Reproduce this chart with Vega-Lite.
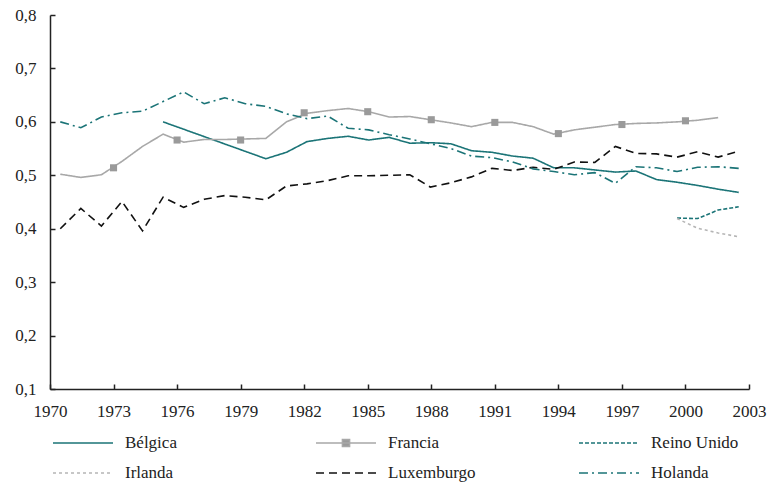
{
  "$schema": "https://vega.github.io/schema/vega-lite/v6.json",
  "width": 699,
  "height": 374,
  "autosize": "none",
  "padding": {"left": 50, "top": 15, "right": 22, "bottom": 100},
  "background": "white",
  "config": {
    "view": {"stroke": null},
    "font": "Liberation Sans Narrow",
    "axis": {
      "grid": false,
      "domainColor": "#222222",
      "domainWidth": 1.5,
      "tickColor": "#222222",
      "tickWidth": 1.5,
      "tickSize": -5,
      "labelColor": "#222222",
      "labelFont": "Liberation Sans Narrow",
      "labelFontSize": 17,
      "title": null
    }
  },
  "datasets": {
    "series": [
      {"country": "Bélgica", "year": 1975, "value": 0.600},
      {"country": "Bélgica", "year": 1980, "value": 0.531},
      {"country": "Bélgica", "year": 1981, "value": 0.543},
      {"country": "Bélgica", "year": 1982, "value": 0.563},
      {"country": "Bélgica", "year": 1983, "value": 0.569},
      {"country": "Bélgica", "year": 1984, "value": 0.573},
      {"country": "Bélgica", "year": 1985, "value": 0.566},
      {"country": "Bélgica", "year": 1986, "value": 0.571},
      {"country": "Bélgica", "year": 1987, "value": 0.560},
      {"country": "Bélgica", "year": 1988, "value": 0.561},
      {"country": "Bélgica", "year": 1989, "value": 0.559},
      {"country": "Bélgica", "year": 1990, "value": 0.546},
      {"country": "Bélgica", "year": 1991, "value": 0.543},
      {"country": "Bélgica", "year": 1992, "value": 0.536},
      {"country": "Bélgica", "year": 1993, "value": 0.532},
      {"country": "Bélgica", "year": 1994, "value": 0.514},
      {"country": "Bélgica", "year": 1995, "value": 0.514},
      {"country": "Bélgica", "year": 1996, "value": 0.510},
      {"country": "Bélgica", "year": 1997, "value": 0.506},
      {"country": "Bélgica", "year": 1998, "value": 0.508},
      {"country": "Bélgica", "year": 1999, "value": 0.492},
      {"country": "Bélgica", "year": 2000, "value": 0.487},
      {"country": "Bélgica", "year": 2001, "value": 0.481},
      {"country": "Bélgica", "year": 2002, "value": 0.474},
      {"country": "Bélgica", "year": 2003, "value": 0.468},

      {"country": "Francia", "year": 1970, "value": 0.502},
      {"country": "Francia", "year": 1971, "value": 0.496},
      {"country": "Francia", "year": 1972, "value": 0.501},
      {"country": "Francia", "year": 1973, "value": 0.526},
      {"country": "Francia", "year": 1974, "value": 0.554},
      {"country": "Francia", "year": 1975, "value": 0.577},
      {"country": "Francia", "year": 1976, "value": 0.562},
      {"country": "Francia", "year": 1977, "value": 0.567},
      {"country": "Francia", "year": 1978, "value": 0.567},
      {"country": "Francia", "year": 1979, "value": 0.568},
      {"country": "Francia", "year": 1980, "value": 0.569},
      {"country": "Francia", "year": 1981, "value": 0.600},
      {"country": "Francia", "year": 1982, "value": 0.616},
      {"country": "Francia", "year": 1983, "value": 0.621},
      {"country": "Francia", "year": 1984, "value": 0.625},
      {"country": "Francia", "year": 1985, "value": 0.619},
      {"country": "Francia", "year": 1986, "value": 0.609},
      {"country": "Francia", "year": 1987, "value": 0.610},
      {"country": "Francia", "year": 1988, "value": 0.604},
      {"country": "Francia", "year": 1989, "value": 0.598},
      {"country": "Francia", "year": 1990, "value": 0.591},
      {"country": "Francia", "year": 1991, "value": 0.599},
      {"country": "Francia", "year": 1992, "value": 0.599},
      {"country": "Francia", "year": 1993, "value": 0.591},
      {"country": "Francia", "year": 1994, "value": 0.577},
      {"country": "Francia", "year": 1995, "value": 0.585},
      {"country": "Francia", "year": 1996, "value": 0.590},
      {"country": "Francia", "year": 1997, "value": 0.595},
      {"country": "Francia", "year": 1998, "value": 0.597},
      {"country": "Francia", "year": 1999, "value": 0.598},
      {"country": "Francia", "year": 2000, "value": 0.600},
      {"country": "Francia", "year": 2001, "value": 0.603},
      {"country": "Francia", "year": 2002, "value": 0.608},

      {"country": "Reino Unido", "year": 2000, "value": 0.420},
      {"country": "Reino Unido", "year": 2001, "value": 0.419},
      {"country": "Reino Unido", "year": 2002, "value": 0.435},
      {"country": "Reino Unido", "year": 2003, "value": 0.441},

      {"country": "Irlanda", "year": 2000, "value": 0.419},
      {"country": "Irlanda", "year": 2001, "value": 0.401},
      {"country": "Irlanda", "year": 2002, "value": 0.392},
      {"country": "Irlanda", "year": 2003, "value": 0.385},

      {"country": "Luxemburgo", "year": 1970, "value": 0.400},
      {"country": "Luxemburgo", "year": 1971, "value": 0.438},
      {"country": "Luxemburgo", "year": 1972, "value": 0.405},
      {"country": "Luxemburgo", "year": 1973, "value": 0.451},
      {"country": "Luxemburgo", "year": 1974, "value": 0.396},
      {"country": "Luxemburgo", "year": 1975, "value": 0.459},
      {"country": "Luxemburgo", "year": 1976, "value": 0.440},
      {"country": "Luxemburgo", "year": 1977, "value": 0.455},
      {"country": "Luxemburgo", "year": 1978, "value": 0.462},
      {"country": "Luxemburgo", "year": 1979, "value": 0.459},
      {"country": "Luxemburgo", "year": 1980, "value": 0.454},
      {"country": "Luxemburgo", "year": 1981, "value": 0.480},
      {"country": "Luxemburgo", "year": 1982, "value": 0.484},
      {"country": "Luxemburgo", "year": 1983, "value": 0.490},
      {"country": "Luxemburgo", "year": 1984, "value": 0.499},
      {"country": "Luxemburgo", "year": 1985, "value": 0.499},
      {"country": "Luxemburgo", "year": 1986, "value": 0.500},
      {"country": "Luxemburgo", "year": 1987, "value": 0.501},
      {"country": "Luxemburgo", "year": 1988, "value": 0.478},
      {"country": "Luxemburgo", "year": 1989, "value": 0.486},
      {"country": "Luxemburgo", "year": 1990, "value": 0.497},
      {"country": "Luxemburgo", "year": 1991, "value": 0.513},
      {"country": "Luxemburgo", "year": 1992, "value": 0.509},
      {"country": "Luxemburgo", "year": 1993, "value": 0.515},
      {"country": "Luxemburgo", "year": 1994, "value": 0.511},
      {"country": "Luxemburgo", "year": 1995, "value": 0.525},
      {"country": "Luxemburgo", "year": 1996, "value": 0.524},
      {"country": "Luxemburgo", "year": 1997, "value": 0.554},
      {"country": "Luxemburgo", "year": 1998, "value": 0.541},
      {"country": "Luxemburgo", "year": 1999, "value": 0.540},
      {"country": "Luxemburgo", "year": 2000, "value": 0.534},
      {"country": "Luxemburgo", "year": 2001, "value": 0.544},
      {"country": "Luxemburgo", "year": 2002, "value": 0.534},
      {"country": "Luxemburgo", "year": 2003, "value": 0.545},

      {"country": "Holanda", "year": 1970, "value": 0.600},
      {"country": "Holanda", "year": 1971, "value": 0.589},
      {"country": "Holanda", "year": 1972, "value": 0.609},
      {"country": "Holanda", "year": 1973, "value": 0.617},
      {"country": "Holanda", "year": 1974, "value": 0.620},
      {"country": "Holanda", "year": 1975, "value": 0.638},
      {"country": "Holanda", "year": 1976, "value": 0.656},
      {"country": "Holanda", "year": 1977, "value": 0.634},
      {"country": "Holanda", "year": 1978, "value": 0.645},
      {"country": "Holanda", "year": 1979, "value": 0.634},
      {"country": "Holanda", "year": 1980, "value": 0.629},
      {"country": "Holanda", "year": 1981, "value": 0.615},
      {"country": "Holanda", "year": 1982, "value": 0.606},
      {"country": "Holanda", "year": 1983, "value": 0.611},
      {"country": "Holanda", "year": 1984, "value": 0.588},
      {"country": "Holanda", "year": 1985, "value": 0.585},
      {"country": "Holanda", "year": 1986, "value": 0.576},
      {"country": "Holanda", "year": 1987, "value": 0.568},
      {"country": "Holanda", "year": 1988, "value": 0.559},
      {"country": "Holanda", "year": 1989, "value": 0.550},
      {"country": "Holanda", "year": 1990, "value": 0.536},
      {"country": "Holanda", "year": 1991, "value": 0.533},
      {"country": "Holanda", "year": 1992, "value": 0.525},
      {"country": "Holanda", "year": 1993, "value": 0.512},
      {"country": "Holanda", "year": 1994, "value": 0.507},
      {"country": "Holanda", "year": 1995, "value": 0.501},
      {"country": "Holanda", "year": 1996, "value": 0.505},
      {"country": "Holanda", "year": 1997, "value": 0.485},
      {"country": "Holanda", "year": 1998, "value": 0.516},
      {"country": "Holanda", "year": 1999, "value": 0.514},
      {"country": "Holanda", "year": 2000, "value": 0.507},
      {"country": "Holanda", "year": 2001, "value": 0.515},
      {"country": "Holanda", "year": 2002, "value": 0.516},
      {"country": "Holanda", "year": 2003, "value": 0.513}
    ],
    "markers": [
      {"year": 1973, "value": 0.514},
      {"year": 1976, "value": 0.566},
      {"year": 1979, "value": 0.566},
      {"year": 1982, "value": 0.617},
      {"year": 1985, "value": 0.619},
      {"year": 1988, "value": 0.604},
      {"year": 1991, "value": 0.599},
      {"year": 1994, "value": 0.578},
      {"year": 1997, "value": 0.595},
      {"year": 2000, "value": 0.602}
    ]
  },
  "layer": [
    {
      "data": {"name": "series"},
      "mark": {"type": "line", "strokeWidth": 1.6},
      "encoding": {
        "x": {"field": "year", "type": "quantitative", "scale": {"domain": [1969.5, 2003.5], "nice": false, "zero": false}, "axis": null},
        "y": {
          "field": "value", "type": "quantitative",
          "scale": {"domain": [0.1, 0.8], "nice": false, "zero": false},
          "axis": {"values": [0.1, 0.2, 0.3, 0.4, 0.5, 0.6, 0.7, 0.8], "labelPadding": 19, "labelExpr": "replace(format(datum.value, '.1f'), '.', ',')"}
        },
        "color": {
          "field": "country", "type": "nominal",
          "scale": {
            "domain": ["Bélgica", "Francia", "Reino Unido", "Irlanda", "Luxemburgo", "Holanda"],
            "range": ["#1b7477", "#a8a8a8", "#1b7477", "#b5b5b5", "#111111", "#1b7477"]
          },
          "legend": {
            "title": null, "orient": "none", "legendX": 2, "legendY": 418, "direction": "horizontal",
            "columns": 3, "gridAlign": "all", "columnPadding": 102, "rowPadding": 10,
            "clipHeight": 20, "symbolSize": 3600, "symbolStrokeWidth": 1.5, "labelOffset": 11,
            "labelFont": "Liberation Sans Narrow", "labelFontSize": 17, "labelColor": "#222222", "padding": 0,
            "encode": {"symbols": {"update": {
              "shape": {"signal": "datum.value === 'Francia' ? 'M-1,0H1M-0.12,-0.12H0.12V0.12H-0.12Z' : 'stroke'"},
              "fill": {"signal": "datum.value === 'Francia' ? '#9a9a9a' : 'transparent'"}
            }}}
          }
        },
        "strokeDash": {
          "field": "country", "type": "nominal",
          "scale": {
            "domain": ["Bélgica", "Francia", "Reino Unido", "Irlanda", "Luxemburgo", "Holanda"],
            "range": [[1, 0], [1, 0], [4, 2], [3, 3], [8, 5], [9, 4, 2, 4]]
          },
          "legend": {
            "title": null, "orient": "none", "legendX": 2, "legendY": 418, "direction": "horizontal",
            "columns": 3, "gridAlign": "all", "columnPadding": 102, "rowPadding": 10,
            "clipHeight": 20, "symbolSize": 3600, "symbolStrokeWidth": 1.5, "labelOffset": 11,
            "labelFont": "Liberation Sans Narrow", "labelFontSize": 17, "labelColor": "#222222", "padding": 0
          }
        }
      }
    },
    {
      "data": {"name": "markers"},
      "mark": {"type": "square", "size": 50, "color": "#9a9a9a", "opacity": 1},
      "encoding": {
        "x": {
          "field": "year", "type": "quantitative",
          "scale": {"domain": [1970, 2003], "nice": false, "zero": false},
          "axis": {"orient": "bottom", "values": [1970, 1973, 1976, 1979, 1982, 1985, 1988, 1991, 1994, 1997, 2000, 2003], "format": "d", "labelPadding": 19, "labelFlush": false, "labelOverlap": false}
        },
        "y": {"field": "value", "type": "quantitative"}
      }
    }
  ],
  "resolve": {"scale": {"x": "independent"}}
}
